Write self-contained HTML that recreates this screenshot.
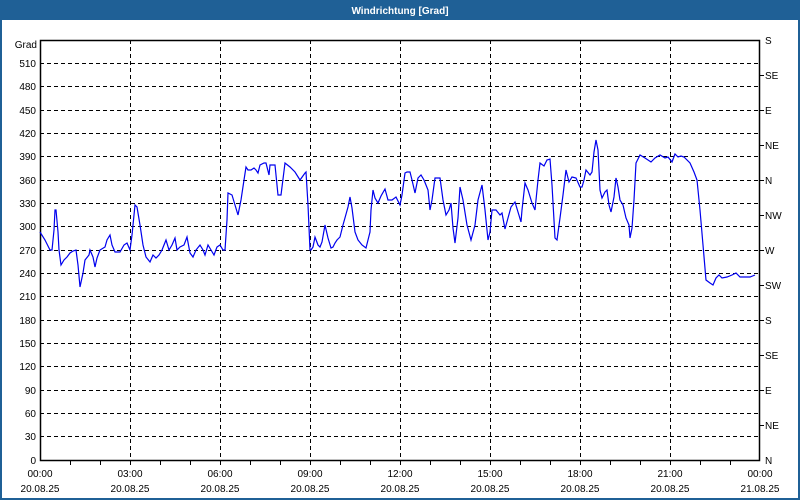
<!DOCTYPE html>
<html><head><meta charset="utf-8"><style>
html,body{margin:0;padding:0;background:#fff}
svg{display:block}
text{font-family:"Liberation Sans",sans-serif;font-size:10px;fill:#000}
</style></head><body>
<svg width="800" height="500" xmlns="http://www.w3.org/2000/svg">
<rect x="0" y="0" width="800" height="500" fill="#fff"/>
<rect x="1" y="1" width="798" height="498" fill="none" stroke="#1f6096" stroke-width="2"/>
<rect x="0" y="0" width="800" height="20" fill="#1f6096"/>
<text x="400" y="14" text-anchor="middle" style="fill:#fff;font-weight:bold;font-size:10px">Windrichtung [Grad]</text>
<g stroke="#000" stroke-dasharray="4,3" stroke-width="1">
<line x1="40" x2="760" y1="63.5" y2="63.5"/><line x1="40" x2="760" y1="86.5" y2="86.5"/><line x1="40" x2="760" y1="110.5" y2="110.5"/><line x1="40" x2="760" y1="133.5" y2="133.5"/><line x1="40" x2="760" y1="156.5" y2="156.5"/><line x1="40" x2="760" y1="180.5" y2="180.5"/><line x1="40" x2="760" y1="203.5" y2="203.5"/><line x1="40" x2="760" y1="226.5" y2="226.5"/><line x1="40" x2="760" y1="250.5" y2="250.5"/><line x1="40" x2="760" y1="273.5" y2="273.5"/><line x1="40" x2="760" y1="296.5" y2="296.5"/><line x1="40" x2="760" y1="320.5" y2="320.5"/><line x1="40" x2="760" y1="343.5" y2="343.5"/><line x1="40" x2="760" y1="366.5" y2="366.5"/><line x1="40" x2="760" y1="390.5" y2="390.5"/><line x1="40" x2="760" y1="413.5" y2="413.5"/><line x1="40" x2="760" y1="436.5" y2="436.5"/>
<line x1="130.5" x2="130.5" y1="40" y2="460"/><line x1="220.5" x2="220.5" y1="40" y2="460"/><line x1="310.5" x2="310.5" y1="40" y2="460"/><line x1="400.5" x2="400.5" y1="40" y2="460"/><line x1="490.5" x2="490.5" y1="40" y2="460"/><line x1="580.5" x2="580.5" y1="40" y2="460"/><line x1="670.5" x2="670.5" y1="40" y2="460"/>
</g>
<g stroke="#000" stroke-width="1">
<rect x="40.5" y="40.5" width="719" height="420" fill="none" stroke-width="1.5"/>
<path d="M70.5 460v5M100.5 460v5M130.5 460v5M160.5 460v5M190.5 460v5M220.5 460v5M250.5 460v5M280.5 460v5M310.5 460v5M340.5 460v5M370.5 460v5M400.5 460v5M430.5 460v5M460.5 460v5M490.5 460v5M520.5 460v5M550.5 460v5M580.5 460v5M610.5 460v5M640.5 460v5M670.5 460v5M700.5 460v5M730.5 460v5"/>
<path d="M760 75.5h4M760 110.5h4M760 145.5h4M760 180.5h4M760 215.5h4M760 250.5h4M760 285.5h4M760 320.5h4M760 355.5h4M760 390.5h4M760 425.5h4"/>
</g>
<g text-anchor="end">
<text x="37" y="48">Grad</text>
<text x="36" y="67">510</text><text x="36" y="90">480</text><text x="36" y="114">450</text><text x="36" y="137">420</text><text x="36" y="160">390</text><text x="36" y="184">360</text><text x="36" y="207">330</text><text x="36" y="230">300</text><text x="36" y="254">270</text><text x="36" y="277">240</text><text x="36" y="300">210</text><text x="36" y="324">180</text><text x="36" y="347">150</text><text x="36" y="370">120</text><text x="36" y="394">90</text><text x="36" y="417">60</text><text x="36" y="440">30</text><text x="36" y="464">0</text>
</g>
<g>
<text x="765" y="44">S</text><text x="765" y="79">SE</text><text x="765" y="114">E</text><text x="765" y="149">NE</text><text x="765" y="184">N</text><text x="765" y="219">NW</text><text x="765" y="254">W</text><text x="765" y="289">SW</text><text x="765" y="324">S</text><text x="765" y="359">SE</text><text x="765" y="394">E</text><text x="765" y="429">NE</text><text x="765" y="464">N</text>
</g>
<g text-anchor="middle">
<text x="40" y="477">00:00</text><text x="130" y="477">03:00</text><text x="220" y="477">06:00</text><text x="310" y="477">09:00</text><text x="400" y="477">12:00</text><text x="490" y="477">15:00</text><text x="580" y="477">18:00</text><text x="670" y="477">21:00</text><text x="760" y="477">00:00</text>
<text x="40" y="492">20.08.25</text><text x="130" y="492">20.08.25</text><text x="220" y="492">20.08.25</text><text x="310" y="492">20.08.25</text><text x="400" y="492">20.08.25</text><text x="490" y="492">20.08.25</text><text x="580" y="492">20.08.25</text><text x="670" y="492">20.08.25</text><text x="760" y="492">21.08.25</text>
</g>
<polyline fill="none" stroke="#0000ee" stroke-width="1.2" points="40,232 45,240 50,250 52,250 54,230 55,210 56,210 58,232 59,250 61,265 64,260 67,257 70,253 73,251 76,250 78,265 80,287 83,273 85,260 89,255 90,250 93,257 95,267 97,258 100,250 105,247 107,240 110,235 112,245 115,252 120,252 124,245 127,243 130,250 132,235 135,205 137,207 140,225 143,245 146,257 150,262 153,255 156,258 159,255 162,250 166,240 169,250 172,245 175,238 177,250 180,247 184,245 187,237 190,253 193,257 196,250 200,245 203,250 205,255 208,245 211,250 214,255 217,247 220,245 223,250 225,250 227,220 228,193 232,195 235,205 238,215 241,200 244,180 246,167 248,170 251,170 254,168 256,170 258,173 260,165 264,163 266,163 269,175 270,165 275,165 278,195 281,195 285,163 290,167 295,172 300,180 305,173 306,172 308,205 310,250 311,250 313,247 315,237 318,245 320,247 322,242 325,225 328,238 331,248 333,247 335,243 337,240 340,237 343,225 348,207 350,197 352,208 355,232 358,240 362,245 366,248 368,240 370,232 371,210 373,190 375,198 378,203 381,196 385,189 388,200 392,200 396,197 400,205 402,195 405,173 407,172 410,172 412,180 415,193 418,178 421,175 424,180 428,190 430,210 432,200 435,178 440,178 443,200 446,215 449,210 451,203 453,228 455,243 458,218 460,187 463,200 467,225 471,240 475,225 478,200 482,185 485,210 488,240 490,232 492,210 496,210 500,215 502,213 505,229 508,218 511,207 515,202 518,212 521,222 522,210 525,183 528,190 532,203 535,210 538,180 540,163 544,166 547,160 550,159 552,185 555,238 557,240 560,218 563,195 566,170 569,182 572,177 576,178 580,187 582,187 584,180 586,170 590,175 592,172 594,152 596,140 598,150 600,190 602,198 605,192 607,190 609,205 611,212 614,197 616,178 618,187 620,200 623,205 626,218 629,225 630,238 632,228 634,200 636,163 640,155 645,158 651,162 655,158 660,155 665,158 668,157 672,162 675,154 678,157 681,156 684,157 690,163 694,172 697,180 700,210 703,245 706,280 710,283 713,285 716,278 719,275 722,278 727,277 732,275 736,273 740,277 745,277 750,277 755,275"/>
</svg>
</body></html>
